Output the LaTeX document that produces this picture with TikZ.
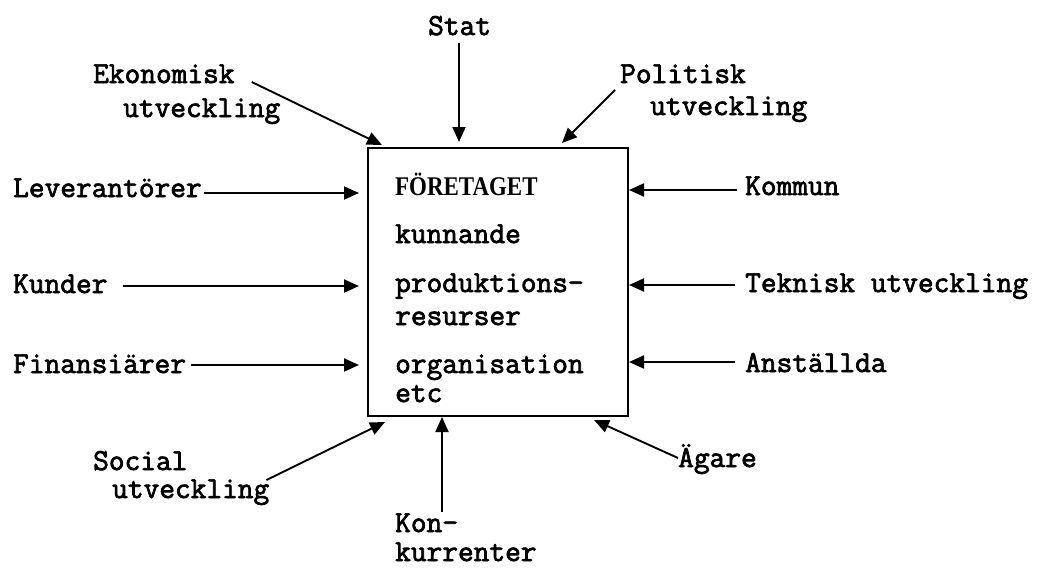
\documentclass[tikz,border=0pt]{standalone}
\usepackage{fontspec}
\usetikzlibrary{arrows.meta}
\newfontfamily\tw{Latin Modern Mono}[FakeBold=2.4]
\newfontfamily\headfont{Liberation Serif Bold}[FakeStretch=0.85]
\begin{document}
\begin{tikzpicture}[x=1pt, y=-1pt,
  lbl/.style={anchor=base west, inner sep=0pt, font=\tw\fontsize{30.5}{33}\selectfont},
  arr/.style={-{Triangle[length=15pt,width=13pt]}, line width=1.9pt},
  firmbox/.style={draw, line width=2pt, minimum width=260pt, minimum height=268pt, inner sep=0pt, anchor=north west}]
\useasboundingbox (0,0) rectangle (1038,568);

% the firm in the middle
\node[firmbox] (firm) at (367,147) {};
\node[anchor=base west, inner sep=0pt, font=\headfont\fontsize{27}{30}\selectfont] (head) at (395,195) {FÖRETAGET};
\node[lbl] (in1) at (395,243) {kunnande};
\node[lbl] (in2) at (395,292) {produktions-};
\node[lbl] (in3) at (395,325) {resurser};
\node[lbl] (in4) at (395,373) {organisation};
\node[lbl] (in5) at (395,402) {etc};

% surrounding actors
\node[lbl] (stat) at (428,35) {Stat};
\node[lbl] (ekon1) at (93,83) {Ekonomisk};
\node[lbl] (ekon2) at (123,117) {utveckling};
\node[lbl] (pol1) at (620,83) {Politisk};
\node[lbl] (pol2) at (650,115) {utveckling};
\node[lbl] (lev) at (13,197) {Leverantörer};
\node[lbl] (kund) at (13,293) {Kunder};
\node[lbl] (fin) at (13,373) {Finansiärer};
\node[lbl] (komm) at (745,195) {Kommun};
\node[lbl] (tek) at (745,292) {Teknisk utveckling};
\node[lbl] (anst) at (745,372) {Anställda};
\node[lbl] (soc1) at (93,470) {Social};
\node[lbl] (soc2) at (112,498) {utveckling};
\node[lbl] (agare) at (678,467) {Ägare};
\node[lbl] (kon1) at (395,532) {Kon-};
\node[lbl] (kon2) at (395,561) {kurrenter};

% influences from above
\draw[arr] ([shift={(31,8)}]stat.base west) -- ([shift={(92,-5)}]firm.north west);
\draw[arr] ([shift={(17,-1)}]ekon1.base east) -- ([shift={(15,-2)}]firm.north west);
\draw[arr] ([shift={(-5,7)}]pol1.base west) -- ([shift={(-67,-4)}]firm.north east);

% influences from the left
\coordinate (levt) at ([shift={(2,-4)}]lev.base east);
\coordinate (kundt) at ([shift={(15,-7)}]kund.base east);
\coordinate (fint) at ([shift={(5,-8)}]fin.base east);
\draw[arr] (levt) -- ([xshift=-8pt]firm.west |- levt);
\draw[arr] (kundt) -- ([xshift=-8pt]firm.west |- kundt);
\draw[arr] (fint) -- ([xshift=-8pt]firm.west |- fint);

% influences from the right
\coordinate (kommt) at ([shift={(-8,-5)}]komm.base west);
\coordinate (tekt) at ([shift={(-10,-7)}]tek.base west);
\coordinate (anstt) at ([shift={(-10,-10)}]anst.base west);
\draw[arr] (kommt) -- (firm.east |- kommt);
\draw[arr] (tekt) -- (firm.east |- tekt);
\draw[arr] (anstt) -- (firm.east |- anstt);

% influences from below
\draw[arr] ([shift={(-3,-18)}]soc2.base east) -- ([shift={(18,5)}]firm.south west);
\draw[arr] ([shift={(0,-9)}]agare.base west) -- ([shift={(-35,3)}]firm.south east);
\coordinate (kont) at ([shift={(47,-20)}]kon1.base west);
\draw[arr] (kont) -- (firm.south -| kont);
\end{tikzpicture}
\end{document}
